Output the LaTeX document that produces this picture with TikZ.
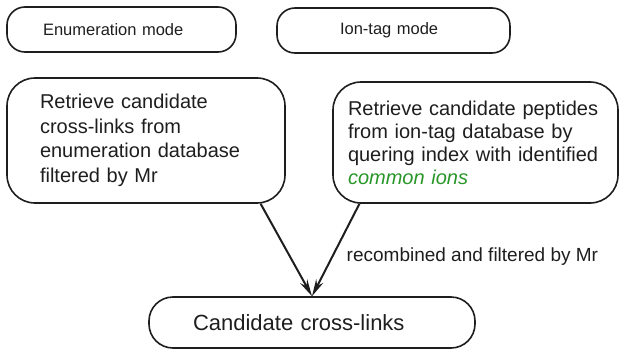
\documentclass[tikz,border=0pt]{standalone}
\usepackage{fontspec}
\setmainfont{Liberation Sans}
\usetikzlibrary{arrows.meta,calc}
\definecolor{ionsgreen}{RGB}{40,150,40}
\definecolor{inkgray}{RGB}{30,30,30}
\tikzset{
  modebox/.style={draw=inkgray, text=inkgray, line width=1.6pt, rounded corners=18pt, minimum height=45pt, align=left, font=\fontsize{16.5}{19}\selectfont},
  stepbox/.style={draw=inkgray, text=inkgray, line width=1.6pt, rounded corners=28pt, align=left, anchor=center},
  flow/.style={-{Stealth[length=17pt,width=8pt]}, draw=inkgray, line width=2pt}
}
\begin{document}
\begin{tikzpicture}[x=1pt, y=-1pt]
  \useasboundingbox (0,0) rectangle (630,356);
  \node[modebox, inner xsep=36pt, text width=157pt] (enum) at (121.5,29.5) {Enumeration mode};
  \node[modebox, inner xsep=63pt, text width=107pt] (iontag) at (393.5,30.5) {Ion-tag mode};
  \node[stepbox, inner xsep=33pt, text width=212pt, minimum height=125pt, font=\fontsize{20}{24.5}\selectfont] (retrL) at (146,140.5)
    {Retrieve candidate\\cross-links from\\enumeration database\\filtered by Mr};
  \node[stepbox, inner xsep=15pt, text width=255pt, minimum height=121pt, font=\fontsize{20}{23}\selectfont] (retrR) at (475.5,142.5)
    {Retrieve candidate peptides\\from ion-tag database by\\quering index with identified\\\textcolor{ionsgreen}{\itshape common ions}\\[4pt]};
  \node[modebox, rounded corners=24pt, minimum height=51pt, inner xsep=44pt, text width=238pt, font=\fontsize{22}{26}\selectfont] (cand) at (312,322.5) {Candidate cross-links};
  % arrows into the candidate box
  \draw[flow] ($(retrL.south west)!0.91!(retrL.south east)$) -- (cand.north);
  \draw[flow] ($(retrR.south west)!0.095!(retrR.south east)$) -- (cand.north)
    node[pos=0.57, anchor=west, xshift=10pt, text=inkgray, font=\fontsize{19}{22}\selectfont] (lbl) {recombined and filtered by Mr};
\end{tikzpicture}
\end{document}
